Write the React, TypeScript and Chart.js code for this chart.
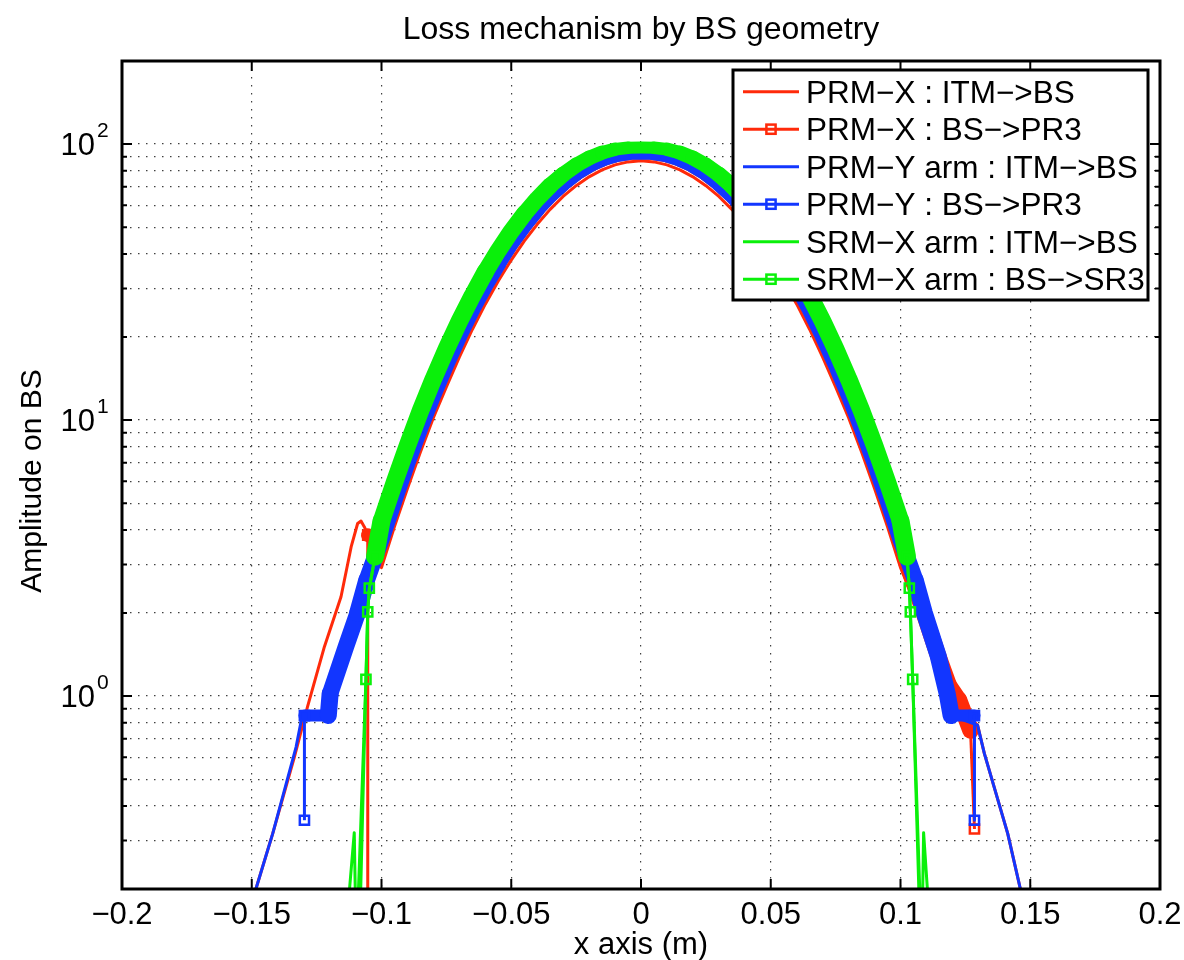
import React, { useEffect, useRef } from 'react';
import { Chart, registerables } from 'chart.js';

Chart.register(...registerables);

// ---------------- text ----------------
const TITLE = 'Loss mechanism by BS geometry';
const X_LABEL = 'x axis (m)';
const Y_LABEL = 'Amplitude on BS';
const LEGEND_LABELS = [
  'PRM−X : ITM−>BS',
  'PRM−X : BS−>PR3',
  'PRM−Y arm : ITM−>BS',
  'PRM−Y : BS−>PR3',
  'SRM−X arm : ITM−>BS',
  'SRM−X arm : BS−>SR3',
];

// ---------------- axes ----------------
const X_TICKS = [-0.2, -0.15, -0.1, -0.05, 0, 0.05, 0.1, 0.15, 0.2];
const X_TICK_LABELS = ['−0.2', '−0.15', '−0.1', '−0.05', '0', '0.05', '0.1', '0.15', '0.2'];
const Y_GRID = [0.2, 0.3, 0.4, 0.5, 0.6, 0.7, 0.8, 0.9, 1, 2, 3, 4, 5, 6, 7, 8, 9, 10, 20, 30, 40, 50, 60, 70, 80, 90, 100, 200];
const Y_DECADES = [1, 10, 100];
const Y_DECADE_EXPONENTS = ['0', '1', '2'];

// ---------------- data (central gaussian) ----------------
const X_CORE = [-0.1, -0.095, -0.09, -0.085, -0.08, -0.075, -0.07, -0.065, -0.06, -0.055, -0.05, -0.045, -0.04, -0.035, -0.03, -0.025, -0.02, -0.015, -0.01, -0.005, 0, 0.005, 0.01, 0.015, 0.02, 0.025, 0.03, 0.035, 0.04, 0.045, 0.05, 0.055, 0.06, 0.065, 0.07, 0.075, 0.08, 0.085, 0.09, 0.095, 0.1];
const PRM_X_ITM_CORE = [2.92, 4.11, 5.65, 7.66, 10.2, 13.2, 16.9, 21.3, 26.3, 31.9, 38.0, 44.5, 51.2, 58.0, 64.6, 70.7, 76.1, 80.6, 84.1, 86.2, 87.1, 86.2, 84.1, 80.6, 76.1, 70.7, 64.6, 58.0, 51.2, 44.5, 38.0, 31.9, 26.3, 21.3, 16.9, 13.2, 10.2, 7.66, 5.65, 4.11, 2.92];
const PR3_CORE = [3.71, 5.15, 7.04, 9.42, 12.4, 16.0, 20.3, 25.3, 30.9, 37.1, 43.9, 50.9, 58.2, 65.3, 72.0, 78.2, 83.5, 87.7, 90.65, 92.2, 92.5, 92.2, 90.65, 87.7, 83.5, 78.2, 72.0, 65.3, 58.2, 50.9, 43.9, 37.1, 30.9, 25.3, 20.3, 16.0, 12.4, 9.42, 7.04, 5.15, 3.71];
const SRM_CORE = [4.31, 5.95, 8.08, 10.8, 14.1, 18.1, 22.8, 28.2, 34.4, 41.1, 48.3, 55.8, 63.3, 70.7, 77.6, 83.8, 89.1, 93.1, 95.8, 97.0, 97.1, 97.0, 95.8, 93.1, 89.1, 83.8, 77.6, 70.7, 63.3, 55.8, 48.3, 41.1, 34.4, 28.2, 22.8, 18.1, 14.1, 10.8, 8.08, 5.95, 4.31];

// ---------------- data (tails) ----------------
// PRM-X : ITM->BS
const PRM_X_ITM_LEFT_X = [-0.1484, -0.1419, -0.1336, -0.1285, -0.122, -0.1156, -0.1117, -0.1092, -0.1079, -0.1066, -0.1053];
const PRM_X_ITM_LEFT_Y = [0.2, 0.318, 0.6, 0.915, 1.51, 2.29, 3.47, 4.22, 4.31, 4.1, 3.85];
const PRM_X_ITM_RIGHT_X = [0.105, 0.11, 0.115, 0.12, 0.125, 0.1297, 0.1323, 0.1413, 0.1462];
const PRM_X_ITM_RIGHT_Y = [2.25, 1.68, 1.27, 0.98, 0.86, 0.785, 0.62, 0.318, 0.2];
// PRM-X : BS->PR3
const PRM_X_PR3_LEFT_X = [-0.1055, -0.1053];
const PRM_X_PR3_LEFT_Y = [0.05, 3.83];
const PRM_X_PR3_RIGHT_X = [0.105, 0.109, 0.1145, 0.1185, 0.1225, 0.127, 0.1285];
const PRM_X_PR3_RIGHT_Y = [2.6, 2.0, 1.4, 1.1, 0.97, 0.75, 0.33];
// PRM-Y arm : ITM->BS
const PRM_Y_ITM_LEFT_X = [-0.1484, -0.1419, -0.1329, -0.1304, -0.1205, -0.1198, -0.1137, -0.1092, -0.1057];
const PRM_Y_ITM_LEFT_Y = [0.2, 0.318, 0.655, 0.865, 0.87, 1.02, 1.51, 2.0, 2.63];
const PRM_Y_ITM_RIGHT_X = [0.1057, 0.1092, 0.1145, 0.118, 0.1195, 0.1297, 0.1323, 0.1413, 0.1462];
const PRM_Y_ITM_RIGHT_Y = [2.63, 2.0, 1.4, 1.02, 0.85, 0.785, 0.62, 0.318, 0.2];
// PRM-Y : BS->PR3
const PRM_Y_PR3_LEFT_X = [-0.1297, -0.1297, -0.1205, -0.1198, -0.1137, -0.1092, -0.1057];
const PRM_Y_PR3_LEFT_Y = [0.355, 0.85, 0.85, 1.02, 1.51, 2.0, 2.63];
const PRM_Y_PR3_RIGHT_X = [0.1057, 0.1092, 0.1145, 0.118, 0.1195, 0.1285, 0.1285];
const PRM_Y_PR3_RIGHT_Y = [2.63, 2.0, 1.4, 1.02, 0.85, 0.85, 0.355];
// SRM-X arm : ITM->BS
const SRM_ITM_LEFT_X = [-0.115, -0.1105, -0.1097, -0.106, -0.1053, -0.1047, -0.1025];
const SRM_ITM_LEFT_Y = [0.1, 0.32, 0.12, 1.15, 2.02, 2.46, 3.2];
const SRM_ITM_RIGHT_X = [0.1025, 0.1034, 0.1038, 0.1047, 0.1082, 0.1089, 0.1125];
const SRM_ITM_RIGHT_Y = [3.2, 2.46, 2.02, 1.15, 0.12, 0.32, 0.1];
// SRM-X arm : BS->SR3
const SRM_SR3_LEFT_X = [-0.1088, -0.106, -0.1053, -0.1047, -0.1025];
const SRM_SR3_LEFT_Y = [0.1, 1.15, 2.02, 2.46, 3.2];
const SRM_SR3_RIGHT_X = [0.1025, 0.1034, 0.1038, 0.1047, 0.108];
const SRM_SR3_RIGHT_Y = [3.2, 2.46, 2.02, 1.15, 0.1];

const SERIES_X = [
  [...PRM_X_ITM_LEFT_X, ...X_CORE, ...PRM_X_ITM_RIGHT_X],
  [...PRM_X_PR3_LEFT_X, ...X_CORE, ...PRM_X_PR3_RIGHT_X],
  [...PRM_Y_ITM_LEFT_X, ...X_CORE, ...PRM_Y_ITM_RIGHT_X],
  [...PRM_Y_PR3_LEFT_X, ...X_CORE, ...PRM_Y_PR3_RIGHT_X],
  [...SRM_ITM_LEFT_X, ...X_CORE, ...SRM_ITM_RIGHT_X],
  [...SRM_SR3_LEFT_X, ...X_CORE, ...SRM_SR3_RIGHT_X],
];
const SERIES_Y = [
  [...PRM_X_ITM_LEFT_Y, ...PRM_X_ITM_CORE, ...PRM_X_ITM_RIGHT_Y],
  [...PRM_X_PR3_LEFT_Y, ...PR3_CORE, ...PRM_X_PR3_RIGHT_Y],
  [...PRM_Y_ITM_LEFT_Y, ...PR3_CORE, ...PRM_Y_ITM_RIGHT_Y],
  [...PRM_Y_PR3_LEFT_Y, ...PR3_CORE, ...PRM_Y_PR3_RIGHT_Y],
  [...SRM_ITM_LEFT_Y, ...SRM_CORE, ...SRM_ITM_RIGHT_Y],
  [...SRM_SR3_LEFT_Y, ...SRM_CORE, ...SRM_SR3_RIGHT_Y],
];

// ---------------- styles ----------------
const RED = '#ff2a0a';
const BLUE = '#1236ff';
const GREEN = '#0af00a';
const FONT = '"Liberation Sans", Arial, Helvetica, sans-serif';
const THIN = 3;
// band: width of the dense-marker band when flat; steep: extra width when the band is vertical
const STYLES = [
  { color: RED, band: 0, steep: 0, thinStart: 0, thinEnd: 0, order: 6 },
  { color: RED, band: 12, steep: 5, thinStart: 1, thinEnd: 1, order: 5 },
  { color: BLUE, band: 0, steep: 0, thinStart: 0, thinEnd: 0, order: 4 },
  { color: BLUE, band: 12, steep: 5, thinStart: 1, thinEnd: 1, order: 3 },
  { color: GREEN, band: 0, steep: 0, thinStart: 0, thinEnd: 0, order: 2 },
  { color: GREEN, band: 12, steep: 6, thinStart: 4, thinEnd: 4, order: 1 },
];

function drawMarker(ctx: CanvasRenderingContext2D, x: number, y: number, color: string) {
  ctx.save();
  ctx.strokeStyle = color;
  ctx.lineWidth = 2.5;
  ctx.strokeRect(x - 4.6, y - 4.6, 9.2, 9.2);
  ctx.restore();
}

const decorPlugin = {
  id: 'matlabDecor',
  afterDraw(chart: any) {
    const { ctx, chartArea: a, scales } = chart;
    const xs = scales.x;
    const ys = scales.y;
    ctx.save();
    // inward ticks
    ctx.strokeStyle = '#000';
    ctx.lineWidth = 2;
    ctx.beginPath();
    X_TICKS.forEach((v) => {
      const px = xs.getPixelForValue(v);
      ctx.moveTo(px, a.bottom);
      ctx.lineTo(px, a.bottom - 10);
      ctx.moveTo(px, a.top);
      ctx.lineTo(px, a.top + 10);
    });
    Y_GRID.forEach((v) => {
      const py = ys.getPixelForValue(v);
      const len = Y_DECADES.includes(v) ? 10 : 5;
      ctx.moveTo(a.left, py);
      ctx.lineTo(a.left + len, py);
      ctx.moveTo(a.right, py);
      ctx.lineTo(a.right - len, py);
    });
    ctx.stroke();
    // box
    ctx.lineWidth = 3;
    ctx.strokeRect(a.left, a.top, a.right - a.left, a.bottom - a.top);

    // texts
    ctx.fillStyle = '#000';
    ctx.textBaseline = 'alphabetic';
    ctx.textAlign = 'center';
    ctx.font = `32px ${FONT}`;
    ctx.fillText(TITLE, (a.left + a.right) / 2, 39);
    ctx.font = `31px ${FONT}`;
    X_TICKS.forEach((v, i) => {
      ctx.fillText(X_TICK_LABELS[i], xs.getPixelForValue(v), 924);
    });
    ctx.fillText(X_LABEL, (a.left + a.right) / 2, 954);
    // y tick labels 10^n
    Y_DECADES.forEach((v, i) => {
      const py = ys.getPixelForValue(v);
      ctx.font = `31px ${FONT}`;
      ctx.textAlign = 'right';
      ctx.fillText('10', 95, py + 11);
      ctx.font = `21px ${FONT}`;
      ctx.textAlign = 'left';
      ctx.fillText(Y_DECADE_EXPONENTS[i], 97, py - 7);
    });
    // y label
    ctx.save();
    ctx.translate(41, 481);
    ctx.rotate(-Math.PI / 2);
    ctx.font = `30px ${FONT}`;
    ctx.textAlign = 'center';
    ctx.fillText(Y_LABEL, 0, 0);
    ctx.restore();

    // legend
    const lx0 = 733, ly0 = 70, lx1 = 1148, ly1 = 300;
    ctx.fillStyle = '#fff';
    ctx.fillRect(lx0, ly0, lx1 - lx0, ly1 - ly0);
    ctx.strokeStyle = '#000';
    ctx.lineWidth = 3;
    ctx.strokeRect(lx0, ly0, lx1 - lx0, ly1 - ly0);
    ctx.font = `31.5px ${FONT}`;
    ctx.textAlign = 'left';
    LEGEND_LABELS.forEach((lab, i) => {
      const st = STYLES[i];
      const cy = 91.7 + i * 37.5;
      ctx.strokeStyle = st.color;
      ctx.lineWidth = THIN;
      ctx.beginPath();
      ctx.moveTo(743, cy);
      ctx.lineTo(799, cy);
      ctx.stroke();
      if (st.band) drawMarker(ctx, 771, cy, st.color);
      ctx.fillStyle = '#000';
      ctx.fillText(lab, 806, cy + 11);
    });
    ctx.restore();
  },
};

export default function App() {
  const ref = useRef<HTMLCanvasElement>(null);
  useEffect(() => {
    document.body.style.margin = '0';
    const datasets = SERIES_X.map((xsArr, i) => {
      const st = STYLES[i];
      const data = xsArr.map((x, j) => ({ x, y: SERIES_Y[i][j] }));
      const n = data.length;
      const isThinSeg = (c: any) => c.p0DataIndex < st.thinStart || c.p1DataIndex > n - 1 - st.thinEnd;
      const ds: any = {
        label: LEGEND_LABELS[i],
        data,
        order: st.order,
        borderColor: st.color,
        backgroundColor: st.color,
        borderWidth: THIN,
        borderJoinStyle: 'round',
        borderCapStyle: 'round',
        tension: 0,
        clip: 0,
        pointStyle: 'rect',
        pointBorderWidth: 2.5,
        pointBorderColor: st.color,
        pointBackgroundColor: 'rgba(255,255,255,0)',
        pointRadius: 0,
      };
      if (st.band) {
        ds.segment = {
          borderWidth: (c: any) => {
            if (isThinSeg(c)) return THIN;
            const dx = c.p1.x - c.p0.x;
            const dy = c.p1.y - c.p0.y;
            const len = Math.hypot(dx, dy) || 1;
            return Math.round((st.band + st.steep * Math.abs(dy) / len) * 2) / 2;
          },
          borderCapStyle: (c: any) => (isThinSeg(c) ? 'butt' : 'round'),
        };
        ds.pointRadius = (c: any) =>
          c.dataIndex <= st.thinStart || c.dataIndex >= n - 1 - st.thinEnd ? 6.5 : 0;
      }
      return ds;
    });

    const chart = new Chart(ref.current as HTMLCanvasElement, {
      type: 'line',
      data: { datasets },
      options: {
        animation: false,
        responsive: false,
        devicePixelRatio: 1,
        events: [],
        layout: { padding: { left: 122, right: 24, top: 61, bottom: 71 } },
        plugins: {
          legend: { display: false },
          title: { display: false },
          tooltip: { enabled: false },
        },
        scales: {
          x: {
            type: 'linear',
            min: -0.2,
            max: 0.2,
            afterBuildTicks: (s: any) => {
              s.ticks = X_TICKS.map((v) => ({ value: v }));
            },
            ticks: { display: false },
            grid: { drawTicks: false, color: 'rgba(0,0,0,0.75)', lineWidth: 1.2 },
            border: { display: false, dash: [1.5, 6.5] },
          },
          y: {
            type: 'logarithmic',
            min: 0.2,
            max: 200,
            afterBuildTicks: (s: any) => {
              s.ticks = Y_GRID.map((v) => ({ value: v }));
            },
            ticks: { display: false },
            grid: { drawTicks: false, color: 'rgba(0,0,0,0.75)', lineWidth: 1.2 },
            border: { display: false, dash: [1.5, 6.5] },
          },
        },
      } as any,
      plugins: [decorPlugin],
    });
    return () => chart.destroy();
  }, []);
  return <canvas ref={ref} width={1184} height={960} style={{ display: 'block', width: 1184, height: 960 }} />;
}
